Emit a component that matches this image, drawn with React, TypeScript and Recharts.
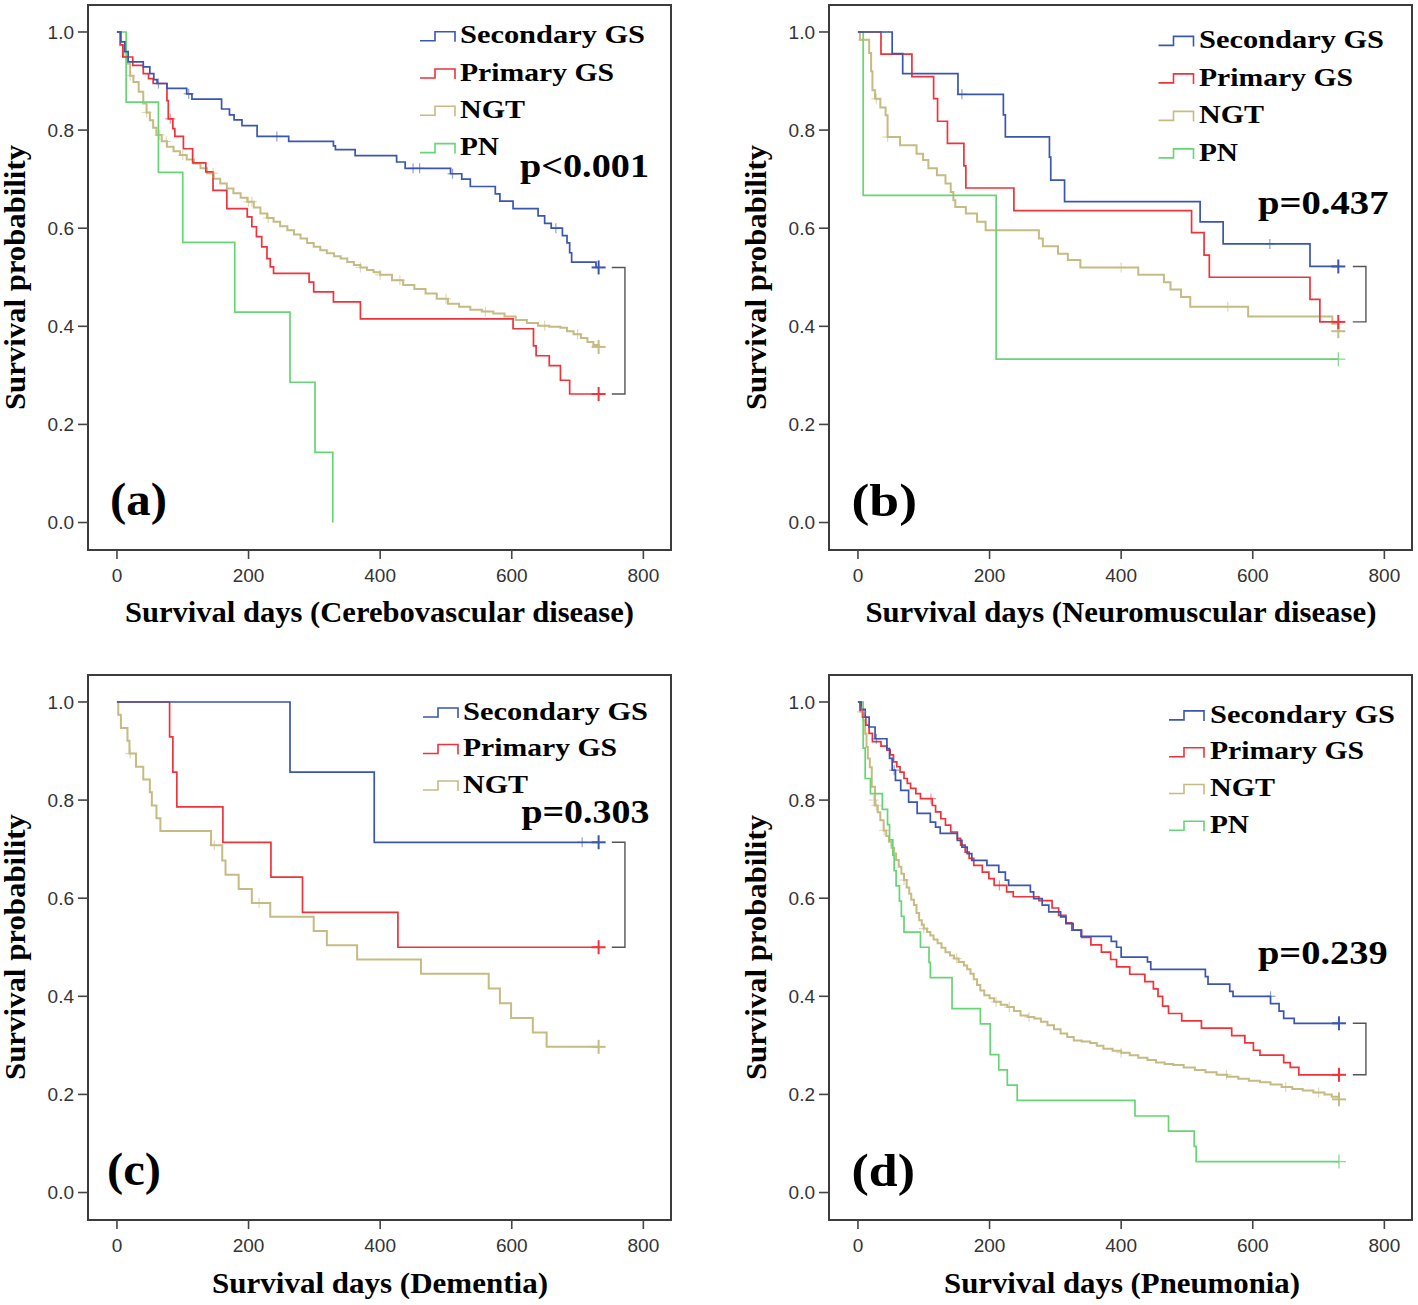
import React from 'react';
import { ComposedChart, Line, Scatter, XAxis, YAxis, ReferenceArea } from 'recharts';

// ---------- axis values ----------
const X_TICKS = [0, 200, 400, 600, 800];
const Y_TICKS = [0, 0.2, 0.4, 0.6, 0.8, 1.0];
const X_DOMAIN: [number, number] = [-44, 842];
const Y_DOMAIN: [number, number] = [-0.056, 1.055];
const GROUPS = ['Secondary GS', 'Primary GS', 'NGT', 'PN'];

// ---------- (a) Cerebrovascular disease ----------
const cvdSecondary = [[0,1],[6,0.98],[12,0.96],[17,0.939],[40,0.929],[50,0.915],[56,0.903],[61,0.895],[76,0.885],[106,0.874],[114,0.863],[159,0.843],[171,0.831],[178,0.821],[190,0.809],[213,0.787],[261,0.777],[329,0.768],[332,0.76],[362,0.748],[425,0.735],[438,0.722],[507,0.711],[524,0.7],[537,0.685],[575,0.67],[582,0.655],[602,0.64],[640,0.625],[650,0.61],[660,0.6],[677,0.585],[684,0.57],[688,0.55],[691,0.531],[728,0.52],[732,0.52]];
const cvdPrimary = [[0,1],[5,0.974],[9,0.949],[24,0.932],[40,0.915],[48,0.905],[55,0.895],[76,0.86],[78,0.823],[85,0.803],[88,0.787],[101,0.762],[115,0.733],[135,0.715],[146,0.677],[167,0.64],[198,0.623],[205,0.603],[212,0.583],[220,0.562],[228,0.538],[233,0.521],[238,0.508],[292,0.49],[299,0.47],[329,0.45],[370,0.415],[602,0.395],[633,0.36],[637,0.34],[657,0.32],[674,0.29],[688,0.262],[732,0.262]];
const cvdNGT = [[0,1],[5,0.973],[10,0.949],[15,0.935],[20,0.911],[25,0.898],[33,0.878],[40,0.854],[45,0.836],[50,0.82],[55,0.805],[60,0.79],[68,0.777],[76,0.766],[86,0.757],[96,0.749],[106,0.74],[117,0.732],[127,0.722],[137,0.712],[147,0.701],[157,0.691],[167,0.681],[177,0.671],[188,0.662],[198,0.654],[208,0.642],[218,0.63],[228,0.621],[238,0.613],[248,0.604],[259,0.596],[269,0.587],[279,0.579],[289,0.57],[299,0.562],[309,0.555],[319,0.549],[330,0.543],[340,0.538],[350,0.531],[360,0.525],[370,0.52],[380,0.515],[390,0.51],[400,0.505],[418,0.494],[435,0.484],[452,0.476],[469,0.467],[486,0.456],[503,0.446],[520,0.44],[537,0.434],[555,0.43],[572,0.426],[589,0.42],[606,0.413],[623,0.407],[640,0.401],[657,0.399],[674,0.397],[684,0.39],[694,0.384],[705,0.376],[715,0.368],[724,0.362],[732,0.358]];
const cvdPN = [[0,1],[14,0.857],[63,0.714],[100,0.571],[179,0.429],[263,0.286],[301,0.143],[328,0]];
const cvdSecondaryCensored = [[63,0.895],[109,0.874],[243,0.787],[450,0.722],[460,0.722],[510,0.711],[667,0.6]];
const cvdPrimaryCensored = [[81,0.823]];
const cvdNGTCensored = [[20,0.911],[45,0.836],[65,0.79],[75,0.777],[100,0.749],[146,0.712],[200,0.654],[205,0.654],[230,0.621],[370,0.52],[400,0.505],[430,0.494],[500,0.456],[560,0.43],[650,0.401],[700,0.384]];

// ---------- (b) Neuromuscular disease ----------
const nmdSecondary = [[0,1],[52,0.956],[68,0.915],[152,0.873],[221,0.831],[224,0.786],[291,0.745],[293,0.698],[314,0.654],[520,0.613],[555,0.568],[687,0.522],[730,0.522]];
const nmdPrimary = [[0,1],[35,0.955],[82,0.909],[115,0.864],[121,0.818],[136,0.773],[161,0.727],[164,0.682],[237,0.636],[507,0.591],[526,0.545],[534,0.5],[687,0.455],[702,0.409],[730,0.409]];
const nmdNGT = [[0,1],[3,0.984],[17,0.957],[20,0.92],[22,0.881],[26,0.864],[34,0.846],[42,0.83],[45,0.786],[64,0.769],[89,0.752],[99,0.739],[107,0.722],[120,0.708],[133,0.691],[141,0.674],[145,0.657],[148,0.643],[164,0.63],[181,0.613],[194,0.596],[275,0.579],[281,0.563],[304,0.548],[319,0.535],[338,0.52],[426,0.505],[465,0.49],[475,0.475],[491,0.46],[505,0.44],[593,0.42],[721,0.405],[730,0.39]];
const nmdPN = [[0,1],[8,0.667],[210,0.333],[730,0.333]];
const nmdSecondaryCensored = [[158,0.873],[626,0.568]];
const nmdPrimaryCensored: number[][] = [];
const nmdNGTCensored = [[8,0.984],[28,0.864],[45,0.786],[400,0.52],[562,0.44]];

// ---------- (c) Dementia ----------
const demSecondary = [[0,1],[263,0.857],[391,0.714],[732,0.714]];
const demPrimary = [[0,1],[80,0.929],[85,0.857],[91,0.786],[161,0.714],[234,0.643],[282,0.571],[427,0.5],[732,0.5]];
const demNGT = [[0,1],[2,0.974],[6,0.947],[16,0.921],[19,0.895],[29,0.868],[40,0.842],[50,0.816],[53,0.789],[60,0.763],[66,0.737],[143,0.708],[160,0.677],[165,0.648],[185,0.619],[205,0.59],[233,0.562],[299,0.533],[319,0.504],[365,0.475],[462,0.446],[565,0.416],[582,0.386],[599,0.356],[632,0.326],[653,0.297],[732,0.297]];
const demSecondaryCensored = [[707,0.714]];
const demPrimaryCensored: number[][] = [];
const demNGTCensored = [[20,0.895],[148,0.708],[216,0.59]];

// ---------- (d) Pneumonia ----------
const pnaSecondary = [[0,1],[5,0.985],[11,0.969],[17,0.949],[26,0.925],[44,0.905],[48,0.885],[52,0.861],[57,0.84],[65,0.82],[77,0.796],[90,0.773],[110,0.755],[118,0.745],[125,0.732],[151,0.718],[158,0.704],[166,0.691],[173,0.677],[196,0.667],[214,0.653],[224,0.637],[229,0.626],[262,0.613],[267,0.599],[280,0.586],[290,0.572],[308,0.562],[316,0.548],[327,0.535],[339,0.522],[385,0.512],[393,0.5],[400,0.48],[440,0.47],[445,0.455],[528,0.44],[532,0.425],[565,0.41],[570,0.4],[627,0.385],[640,0.37],[647,0.355],[663,0.345],[731,0.345]];
const pnaPrimary = [[0,1],[3,0.983],[7,0.969],[12,0.953],[17,0.936],[22,0.919],[35,0.91],[44,0.902],[49,0.892],[54,0.878],[59,0.868],[64,0.857],[70,0.844],[75,0.834],[80,0.824],[88,0.813],[95,0.803],[113,0.789],[118,0.776],[126,0.762],[133,0.749],[141,0.735],[151,0.722],[156,0.708],[163,0.694],[169,0.681],[176,0.667],[189,0.653],[199,0.64],[207,0.626],[226,0.613],[236,0.603],[275,0.595],[295,0.58],[305,0.565],[316,0.55],[325,0.535],[340,0.52],[354,0.505],[370,0.49],[384,0.475],[393,0.46],[413,0.445],[436,0.43],[449,0.415],[456,0.4],[463,0.38],[472,0.365],[492,0.35],[522,0.335],[568,0.32],[588,0.305],[601,0.29],[611,0.28],[647,0.265],[657,0.255],[670,0.24],[731,0.24]];
const pnaNGT = [[0,1],[4,0.98],[8,0.963],[11,0.935],[13,0.908],[15,0.885],[18,0.867],[21,0.827],[26,0.789],[30,0.775],[34,0.759],[39,0.738],[43,0.727],[47,0.715],[51,0.703],[55,0.691],[58,0.678],[62,0.664],[66,0.65],[70,0.637],[74,0.622],[78,0.609],[81,0.597],[85,0.586],[89,0.57],[93,0.555],[97,0.546],[100,0.538],[105,0.531],[110,0.524],[115,0.516],[121,0.508],[127,0.499],[133,0.49],[140,0.483],[146,0.477],[153,0.47],[161,0.463],[166,0.455],[171,0.446],[176,0.435],[181,0.423],[186,0.412],[192,0.402],[200,0.396],[207,0.389],[217,0.383],[227,0.378],[237,0.37],[247,0.361],[258,0.358],[268,0.355],[278,0.348],[288,0.341],[298,0.333],[308,0.324],[318,0.317],[328,0.31],[340,0.308],[353,0.305],[363,0.299],[373,0.293],[387,0.289],[400,0.285],[413,0.28],[426,0.275],[440,0.27],[453,0.265],[466,0.262],[479,0.26],[495,0.255],[512,0.25],[528,0.245],[545,0.24],[561,0.236],[578,0.232],[594,0.228],[611,0.225],[627,0.22],[644,0.215],[660,0.211],[676,0.208],[692,0.204],[709,0.2],[720,0.195],[731,0.19]];
const pnaPN = [[0,1],[8,0.906],[11,0.844],[19,0.813],[37,0.781],[45,0.75],[48,0.719],[53,0.688],[55,0.656],[58,0.625],[63,0.594],[66,0.563],[70,0.531],[95,0.5],[108,0.469],[110,0.438],[143,0.375],[186,0.344],[201,0.281],[214,0.25],[227,0.219],[242,0.188],[421,0.156],[472,0.125],[511,0.094],[514,0.063],[731,0.063]];
const pnaSecondaryCensored = [[28,0.925],[55,0.861],[627,0.4]];
const pnaPrimaryCensored = [[111,0.803],[215,0.626]];
const pnaNGTCensored = [[6,0.98],[24,0.8],[28,0.789],[40,0.738],[70,0.637],[100,0.538],[150,0.477],[210,0.389],[230,0.378],[260,0.358],[400,0.285],[560,0.24],[650,0.215],[700,0.204]];

// ---------- styles ----------
const COLORS: Record<string, string> = {
  'Secondary GS': '#3a56b0',
  'Primary GS': '#f0323a',
  NGT: '#c6bb82',
  PN: '#66d674',
};
const DRAW_ORDER = ['NGT', 'PN', 'Primary GS', 'Secondary GS'];
const SERIF = '"Liberation Serif", "Times New Roman", serif';
const SANS = '"Liberation Sans", Arial, sans-serif';
const LEGEND_W: Record<string, number> = { 'Secondary GS': 185, 'Primary GS': 154, NGT: 65, PN: 39 };

type Pair = number[];
type PanelData = {
  title: string;
  tag: string;
  p: string;
  groups: string[];
  curves: Record<string, Pair[]>;
  censored: Record<string, Pair[]>;
};

const PANELS: PanelData[] = [
  {
    title: 'Survival days (Cerebovascular disease)', tag: '(a)', p: 'p<0.001', groups: GROUPS,
    curves: { 'Secondary GS': cvdSecondary, 'Primary GS': cvdPrimary, NGT: cvdNGT, PN: cvdPN },
    censored: { 'Secondary GS': cvdSecondaryCensored, 'Primary GS': cvdPrimaryCensored, NGT: cvdNGTCensored },
  },
  {
    title: 'Survival days (Neuromuscular disease)', tag: '(b)', p: 'p=0.437', groups: GROUPS,
    curves: { 'Secondary GS': nmdSecondary, 'Primary GS': nmdPrimary, NGT: nmdNGT, PN: nmdPN },
    censored: { 'Secondary GS': nmdSecondaryCensored, 'Primary GS': nmdPrimaryCensored, NGT: nmdNGTCensored },
  },
  {
    title: 'Survival days (Dementia)', tag: '(c)', p: 'p=0.303', groups: GROUPS.slice(0, 3),
    curves: { 'Secondary GS': demSecondary, 'Primary GS': demPrimary, NGT: demNGT },
    censored: { 'Secondary GS': demSecondaryCensored, 'Primary GS': demPrimaryCensored, NGT: demNGTCensored },
  },
  {
    title: 'Survival days (Pneumonia)', tag: '(d)', p: 'p=0.239', groups: GROUPS,
    curves: { 'Secondary GS': pnaSecondary, 'Primary GS': pnaPrimary, NGT: pnaNGT, PN: pnaPN },
    censored: { 'Secondary GS': pnaSecondaryCensored, 'Primary GS': pnaPrimaryCensored, NGT: pnaNGTCensored },
  },
];

// layout (pixels) for each panel
const LAYOUT = [
  { left: 0, top: 0, yT: { x: 24.5, y: 410, w: 265 }, xT: { x: 125, y: 622.4, w: 509 }, tag: { x: 110, y: 515, w: 57 }, p: { x: 520, y: 176.7, w: 129 }, lg: { ix: 420, tx: 460, y0: 43.3, dy: 37.3 } },
  { left: 741, top: 0, yT: { x: 765.5, y: 410, w: 265 }, xT: { x: 865.4, y: 622.4, w: 511 }, tag: { x: 851.5, y: 515.5, w: 65.5 }, p: { x: 1258, y: 214.3, w: 130.5 }, lg: { ix: 1158.5, tx: 1199, y0: 48, dy: 37.5 } },
  { left: 0, top: 670, yT: { x: 24.5, y: 1080, w: 266 }, xT: { x: 212, y: 1293, w: 336 }, tag: { x: 107, y: 1185, w: 54 }, p: { x: 521.4, y: 822.5, w: 128 }, lg: { ix: 423, tx: 463, y0: 719.6, dy: 36.5 } },
  { left: 741, top: 670, yT: { x: 765.5, y: 1080, w: 265 }, xT: { x: 944, y: 1293, w: 356 }, tag: { x: 851.5, y: 1186, w: 63.5 }, p: { x: 1258, y: 963.6, w: 129.6 }, lg: { ix: 1169, tx: 1210, y0: 722.5, dy: 36.8 } },
];

const toPts = (arr: Pair[]) => arr.map(([t, s]) => ({ t, s }));

const Plus = (props: any) => {
  const { cx, cy, r, color, sw, op } = props;
  if (cx == null || cy == null) return null;
  return (
    <g stroke={color} strokeWidth={sw} opacity={op}>
      <line x1={cx - r} y1={cy} x2={cx + r} y2={cy} />
      <line x1={cx} y1={cy - r} x2={cx} y2={cy + r} />
    </g>
  );
};

const CHART_W = 677;
const CHART_H = 635;

function Panel({ data, lay }: { data: PanelData; lay: any }) {
  const order = DRAW_ORDER.filter((g) => data.curves[g]);
  const last = (g: string) => data.curves[g][data.curves[g].length - 1];
  const secEnd = last('Secondary GS')[1];
  const priEnd = last('Primary GS')[1];
  const bracket = [
    { t: 752, s: secEnd }, { t: 772, s: secEnd }, { t: 772, s: priEnd }, { t: 752, s: priEnd },
  ];
  return (
    <div style={{ position: 'absolute', left: lay.left, top: lay.top }}>
      <ComposedChart width={CHART_W} height={CHART_H} margin={{ top: 5, right: 6, left: 28, bottom: 45 }}>
        <XAxis
          type="number" dataKey="t" domain={X_DOMAIN} ticks={X_TICKS} allowDataOverflow
          axisLine={false} tickSize={9} tickMargin={10} height={40}
          tickLine={{ stroke: '#444', strokeWidth: 1.6 }}
          tick={{ fill: '#333', fontSize: 19, fontFamily: SANS }}
        />
        <YAxis
          type="number" dataKey="s" domain={Y_DOMAIN} ticks={Y_TICKS} allowDataOverflow
          axisLine={false} tickSize={10} tickMargin={4} width={60}
          tickLine={{ stroke: '#444', strokeWidth: 1.6 }}
          tick={{ fill: '#333', fontSize: 19, fontFamily: SANS }}
          tickFormatter={(v: number) => v.toFixed(1)}
        />
        <ReferenceArea x1={X_DOMAIN[0]} x2={X_DOMAIN[1]} y1={Y_DOMAIN[0]} y2={Y_DOMAIN[1]}
          fill="none" fillOpacity={0} stroke="#3c3c3c" strokeWidth={2} ifOverflow="visible" />
        {order.map((g) => (
          <Line key={'l' + g} data={toPts(data.curves[g])} dataKey="s" type="stepAfter" name={g}
            stroke={COLORS[g]} strokeWidth={g === 'NGT' ? 2 : 1.7} dot={false} activeDot={false}
            isAnimationActive={false} legendType="none" />
        ))}
        {order.filter((g) => data.censored[g] && data.censored[g].length).map((g) => (
          <Scatter key={'c' + g} data={toPts(data.censored[g])} dataKey="s" isAnimationActive={false} legendType="none"
            shape={(p: any) => <Plus cx={p.cx} cy={p.cy} r={5} color={COLORS[g]} sw={1.2} op={0.55} />} />
        ))}
        {order.filter((g) => last(g)[0] >= 700).map((g) => (
          <Scatter key={'e' + g} data={toPts([last(g)])} dataKey="s" isAnimationActive={false} legendType="none"
            shape={(p: any) => <Plus cx={p.cx} cy={p.cy} r={7} color={COLORS[g]} sw={g === 'PN' ? 1.3 : 2} op={g === 'PN' ? 0.8 : 1} />} />
        ))}
        <Line data={bracket} dataKey="s" type="linear" stroke="#555" strokeWidth={1.4} dot={false}
          activeDot={false} isAnimationActive={false} legendType="none" />
      </ComposedChart>
    </div>
  );
}

function Texts({ data, lay }: { data: PanelData; lay: any }) {
  return (
    <g>
      <text transform={`translate(${lay.yT.x},${lay.yT.y}) rotate(-90)`} textLength={lay.yT.w} lengthAdjust="spacingAndGlyphs"
        fontFamily={SERIF} fontWeight="bold" fontSize={29} fill="#000">Survival probability</text>
      <text x={lay.xT.x} y={lay.xT.y} textLength={lay.xT.w} lengthAdjust="spacingAndGlyphs"
        fontFamily={SERIF} fontWeight="bold" fontSize={29} fill="#000">{data.title}</text>
      <text x={lay.tag.x} y={lay.tag.y} textLength={lay.tag.w} lengthAdjust="spacingAndGlyphs"
        fontFamily={SERIF} fontWeight="bold" fontSize={46} fill="#000">{data.tag}</text>
      <text x={lay.p.x} y={lay.p.y} textLength={lay.p.w} lengthAdjust="spacingAndGlyphs"
        fontFamily={SERIF} fontWeight="bold" fontSize={33} fill="#000">{data.p}</text>
      {data.groups.map((g, i) => {
        const b = lay.lg.y0 + i * lay.lg.dy;
        const ix = lay.lg.ix;
        return (
          <g key={g}>
            <path d={`M${ix},${b - 2.6} H${ix + 15} V${b - 11.6} H${ix + 35} V${b - 1.6}`} fill="none"
              stroke={COLORS[g]} strokeWidth={1.6} />
            <text x={lay.lg.tx} y={b} textLength={LEGEND_W[g]} lengthAdjust="spacingAndGlyphs"
              fontFamily={SERIF} fontWeight="bold" fontSize={26} fill="#000">{g}</text>
          </g>
        );
      })}
    </g>
  );
}

export default function App() {
  return (
    <div style={{ position: 'absolute', left: 0, top: 0, width: 1418, height: 1305, background: '#fff', overflow: 'hidden' }}>
      {PANELS.map((d, i) => (
        <Panel key={i} data={d} lay={LAYOUT[i]} />
      ))}
      <svg width={1418} height={1305} style={{ position: 'absolute', left: 0, top: 0, pointerEvents: 'none' }}>
        {PANELS.map((d, i) => (
          <Texts key={i} data={d} lay={LAYOUT[i]} />
        ))}
      </svg>
    </div>
  );
}
